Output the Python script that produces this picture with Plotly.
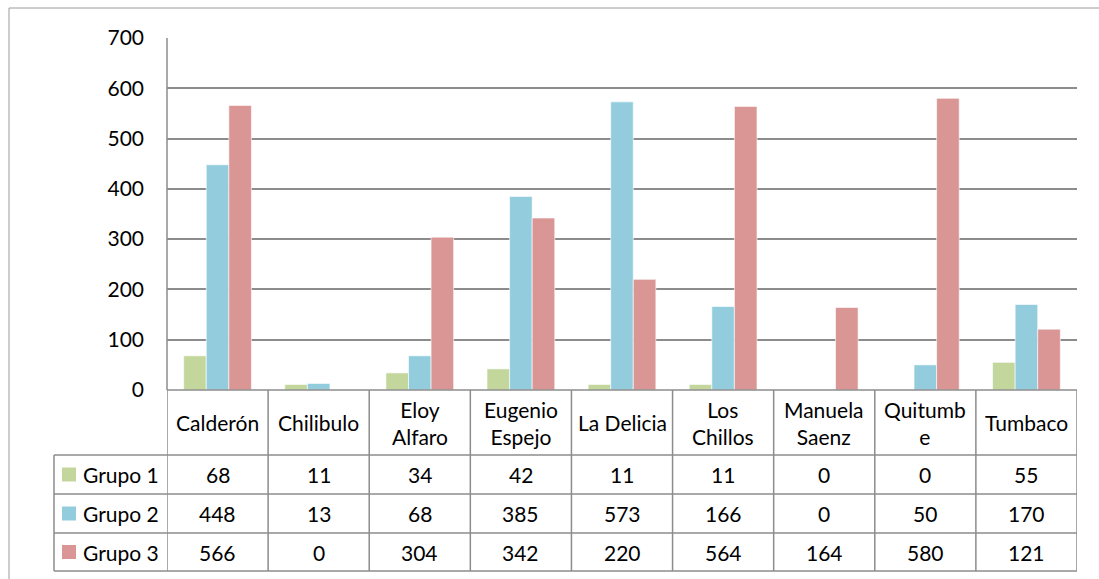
import plotly.graph_objects as go

categories = ["Calderón", "Chilibulo", "Eloy Alfaro", "Eugenio Espejo", "La Delicia",
              "Los Chillos", "Manuela Saenz", "Quitumbe", "Tumbaco"]
header_labels = ["Calderón", "Chilibulo", "Eloy<br>Alfaro", "Eugenio<br>Espejo", "La Delicia",
                 "Los<br>Chillos", "Manuela<br>Saenz", "Quitumb<br>e", "Tumbaco"]
series_names = ["Grupo 1", "Grupo 2", "Grupo 3"]
grupo1 = [68, 11, 34, 42, 11, 11, 0, 0, 55]
grupo2 = [448, 13, 68, 385, 573, 166, 0, 50, 170]
grupo3 = [566, 0, 304, 342, 220, 564, 164, 580, 121]
y_ticks = [0, 100, 200, 300, 400, 500, 600, 700]

colors = ["#C3D69B", "#93CDDD", "#D99694"]
series = [grupo1, grupo2, grupo3]

W, H = 1099, 579
L, R, T, B = 167, 22, 38, 189
PW, PH = W - L - R, H - T - B
FONT = "Lato"
FS = 21
GRID = "#8C8C8C"


def px(p):
    return (p - L) / PW


def py(p):
    return (H - B - p) / PH


n = len(categories)
xs = list(range(n))
fig = go.Figure()
for name, vals, c in zip(series_names, series, colors):
    fig.add_trace(go.Bar(x=xs, y=vals, name=name, marker=dict(color=c, line=dict(color="rgba(255,255,255,0.6)", width=1)),
                         showlegend=False))

shapes = []
annotations = []
line = dict(color=GRID, width=1.5)

# outer chart border
shapes.append(dict(type="rect", xref="paper", yref="paper", x0=px(9), x1=px(1110), y0=py(8), y1=py(700),
                   line=dict(color="#9A9A9A", width=1), layer="below"))

row_edges = [455, 494, 533, 571]
for r in row_edges:
    shapes.append(dict(type="line", xref="paper", yref="paper", x0=px(54), x1=1, y0=py(r), y1=py(r), line=line))
for i in range(n + 1):
    shapes.append(dict(type="line", xref="x", yref="paper", x0=i - 0.5, x1=i - 0.5, y0=0, y1=py(571), line=line))
shapes.append(dict(type="line", xref="paper", yref="paper", x0=px(54), x1=px(54), y0=py(455), y1=py(571), line=line))
shapes.append(dict(type="line", xref="paper", yref="paper", x0=0, x1=0, y0=0, y1=1, line=line))

for i, lab in enumerate(header_labels):
    annotations.append(dict(x=i, y=py(422.5), xref="x", yref="paper", text=lab, showarrow=False,
                            font=dict(family=FONT, size=FS, color="#000"), xanchor="center", yanchor="middle"))
for k, (name, vals, c) in enumerate(zip(series_names, series, colors)):
    top, bot = row_edges[k], row_edges[k + 1]
    yc = py((top + bot) / 2)
    shapes.append(dict(type="rect", xref="paper", yref="paper", x0=px(62), x1=px(76),
                       y0=py((top + bot) / 2 + 7), y1=py((top + bot) / 2 - 7), fillcolor=c, line=dict(width=0)))
    annotations.append(dict(x=px(81), y=yc, xref="paper", yref="paper", text=name, showarrow=False,
                            font=dict(family=FONT, size=FS, color="#000"), xanchor="left", yanchor="middle"))
    for i, v in enumerate(vals):
        annotations.append(dict(x=i, y=yc, xref="x", yref="paper", text=str(v), showarrow=False,
                                font=dict(family=FONT, size=FS, color="#000"), xanchor="center", yanchor="middle"))

fig.update_layout(
    width=W, height=H,
    margin=dict(l=L, r=R, t=T, b=B),
    paper_bgcolor="white", plot_bgcolor="white",
    barmode="group", bargap=0.33, bargroupgap=0,
    shapes=shapes, annotations=annotations,
    xaxis=dict(range=[-0.5, n - 0.5], showticklabels=False, showgrid=False, zeroline=False, showline=False, ticks=""),
    yaxis=dict(range=[0, 700], tickvals=y_ticks, showgrid=True, gridcolor=GRID, gridwidth=1.5,
               zeroline=False, showline=False, ticks="", ticklabelstandoff=22,
               tickfont=dict(family=FONT, size=FS, color="#000")),
)
fig.add_shape(type="line", xref="paper", yref="paper", x0=0, x1=1, y0=0, y1=0, line=line)

fig.write_html("out.html")
